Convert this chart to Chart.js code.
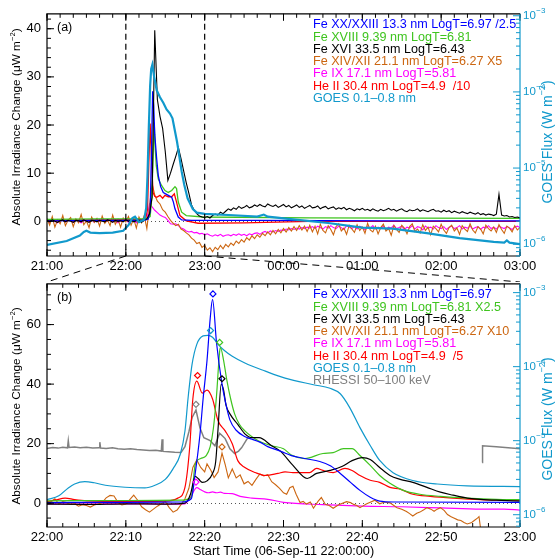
<!DOCTYPE html>
<html>
<head>
<meta charset="utf-8">
<script src="https://cdn.jsdelivr.net/npm/chart.js@4.4.1/dist/chart.umd.min.js"></script>
<style>
  html, body { margin: 0; padding: 0; background: #fff; }
  #wrap { position: relative; width: 558px; height: 560px; overflow: hidden; }
  #chartA { position: absolute; left: 0; top: 0; }
  #chartB { position: absolute; left: 0; top: 270px; }
</style>
</head>
<body>
<div id="wrap">
  <canvas id="chartA" width="558" height="282"></canvas>
  <canvas id="chartB" width="558" height="290"></canvas>
</div>
<script>
const FONT = "'Liberation Sans', Arial, Helvetica, sans-serif";
const INK = { blue: '#0000ff', green: '#3fc41f', black: '#000000', orange: '#cc6611',
              magenta: '#ff00ff', red: '#ff0000', goes: '#1199cc', gray: '#808080' };

// ---- panel (a): 21:00 - 03:00, minutes after 21:00 ----
const aHourTicks = [0, 60, 120, 180, 240, 300, 360];
const aLevelTicks = [0, 10, 20, 30, 40];
const aZoomWindow = [60, 120];
const aLabels = ['Fe XX/XXIII 13.3 nm LogT=6.97 /2.5', 'Fe XVIII 9.39 nm LogT=6.81', 'Fe XVI 33.5 nm LogT=6.43',
                 'Fe XIV/XII 21.1 nm LogT=6.27 X5', 'Fe IX 17.1 nm LogT=5.81', 'He II 30.4 nm LogT=4.9  /10', 'GOES 0.1\u20130.8 nm'];

// 2-minute samples starting at 21:00
const aGridStart = 0, aGridStep = 2;
const aFe16 = [
  0.2, -0.1, 0.3, 0.0, -0.2, 0.1, 0.3, -0.1, 0.2, 0.0,
  -0.2, 0.2, 0.1, -0.1, 0.3, 0.0, -0.2, 0.2, 0.1, -0.1,
  0.2, 0.0, -0.1, 0.3, 0.1, -0.2, 0.2, 0.0, 0.1, -0.1,
  0.3, 0.0, 0.2, -0.1, 0.1, 0.2, -0.2, 0.3, 0.5, 1.5,
  5.0, 39.7, 25.3, 21.8, 19.3, 14.5, 8.5, 10.0, 11.8, 13.5,
  15.3, 13.0, 10.5, 8.0, 5.8, 3.4, 2.3, 1.6, 1.1, 0.9,
  0.8, 1.0, 0.7, 1.2, 1.5, 1.3, 1.9, 1.6, 2.1, 2.6,
  2.3, 2.8, 2.5, 3.1, 2.7, 2.9, 3.3, 2.8, 3.0, 3.4,
  3.1, 3.5, 3.2, 3.0, 3.6, 3.3, 3.1, 3.4, 2.9, 3.2,
  3.5, 3.0, 3.3, 2.8, 3.1, 3.4, 2.9, 3.2, 2.7, 3.0,
  3.3, 2.8, 2.9, 3.2, 2.6, 2.9, 3.1, 2.6, 2.8, 3.0,
  2.5, 2.8, 2.6, 2.9, 2.4, 2.7, 2.5, 2.2, 2.6, 2.4,
  2.7, 2.3, 2.5, 2.2, 2.6, 2.3, 2.1, 2.5, 2.2, 2.4,
  2.7, 2.3, 2.5, 2.1, 2.4, 2.6, 2.2, 2.0, 2.4, 2.2,
  2.3, 2.6, 2.1, 2.4, 2.2, 2.0, 2.3, 2.5, 2.1, 2.2,
  1.9, 2.3, 2.0, 2.2, 1.8, 2.1, 1.9, 1.7, 2.0, 1.8,
  1.6, 1.9, 1.7, 1.5, 1.8, 1.4, 1.6, 1.3, 1.5, 1.4,
  1.2, 1.5, 5.6, 1.3, 1.1, 1.2, 0.9, 1.0, 0.8, 0.9,
  0.7
];
const aFe14 = [
  0.6, -0.8, 1.0, -1.2, 0.3, -0.5, 1.2, -0.9, 0.2, 0.8,
  -1.1, 0.5, -0.3, 1.4, -0.7, 0.1, -1.3, 0.9, -0.2, 0.6,
  -1.0, 1.1, -0.4, 0.3, -0.9, 1.3, -0.6, 0.4, -1.2, 0.7,
  -0.1, 1.0, -0.8, 0.5, -1.4, 0.9, -0.3, 1.2, -1.5, 3.0,
  7.8, 5.5, 4.2, 3.6, 2.4, 1.9, 1.0, 0.2, -0.4, -0.9,
  -0.6, -1.6, -1.9, -2.4, -2.8, -3.5, -3.9, -4.6, -4.4, -5.4,
  -5.0, -6.0, -5.5, -6.3, -5.4, -5.9, -5.0, -5.7, -4.8, -5.3,
  -4.5, -5.0, -4.1, -4.6, -3.8, -4.3, -3.4, -3.9, -3.0, -3.6,
  -2.8, -3.3, -2.5, -3.0, -2.2, -2.8, -1.9, -2.6, -1.7, -2.4,
  -1.5, -2.2, -1.3, -2.0, -1.1, -1.9, -0.9, -1.8, -1.0, -2.1,
  -0.8, -2.2, -1.0, -2.6, -0.6, -1.9, -2.4, -0.9, -1.7, -2.8,
  -1.1, -0.5, -2.0, -1.4, -2.7, -0.8, -1.6, -2.3, -0.7, -1.9,
  -1.2, -2.5, -0.4, -1.8, -2.2, -1.0, -2.6, -1.3, -0.6, -2.0,
  -1.5, -2.9, -0.9, -1.7, -2.3, -0.8, -1.4, -2.6, -1.1, -0.5,
  -2.1, -1.6, -2.4, -0.7, -1.9, -1.2, -2.8, -1.0, -1.5, -2.2,
  -0.6, -1.8, -2.5, -1.3, -0.8, -2.0, -1.4, -2.7, -0.9, -1.6,
  -2.1, -0.5, -1.8, -2.4, -1.1, -1.6, -2.6, -0.8, -1.5, -2.0,
  -1.2, -2.3, -0.7, -1.7, -2.5, -1.0, -1.4, -2.2, -0.9, -1.8,
  -1.3
];
const aFe9 = [
  0.3, -0.2, 0.4, 0.0, -0.3, 0.2, 0.5, -0.1, 0.1, 0.3,
  -0.2, 0.4, 0.0, -0.3, 0.2, 0.1, -0.1, 0.3, -0.2, 0.2,
  0.0, 0.4, -0.2, 0.1, 0.3, -0.1, 0.2, -0.3, 0.1, 0.0,
  0.3, -0.2, 0.1, 0.2, -0.3, 0.1, 0.0, 0.2, 0.4, 3.6,
  3.0, 2.3, 1.8, 1.3, 1.0, 0.8, 0.2, -0.5, -0.6, -0.5,
  -0.9, -1.4, -1.6, -2.0, -2.2, -2.1, -2.4, -2.3, -2.6, -2.5,
  -2.8, -2.6, -2.9, -3.1, -2.8, -3.0, -2.7, -3.1, -2.9, -2.8,
  -3.0, -2.7, -2.9, -2.6, -2.9, -2.7, -3.0, -2.6, -2.8, -2.5,
  -2.4, -2.7, -2.3, -2.1, -2.4, -2.0, -2.2, -1.9, -2.1, -1.8,
  -1.9, -1.6, -1.8, -1.5, -1.7, -1.4, -1.6, -1.3, -1.5, -1.2,
  -1.4, -1.1, -1.5, -1.0, -1.3, -1.6, -1.1, -1.4, -0.9, -1.3,
  -1.5, -1.0, -1.3, -1.7, -0.9, -1.2, -1.5, -1.1, -1.6, -1.0,
  -1.3, -1.8, -1.1, -1.4, -0.9, -1.6, -1.2, -1.5, -1.0, -1.7,
  -1.2, -1.4, -0.8, -1.5, -1.3, -1.0, -1.7, -1.2, -1.4, -0.9,
  -1.6, -1.1, -1.3, -1.8, -1.0, -1.4, -1.2, -1.6, -0.9, -1.3,
  -1.5, -1.1, -1.7, -1.2, -1.0, -1.5, -1.3, -0.9, -1.6, -1.2,
  -1.4, -1.0, -1.6, -1.3, -1.1, -1.7, -1.2, -1.4, -0.9, -1.5,
  -1.2, -1.6, -1.0, -1.3, -1.5, -1.1, -1.4, -1.7, -1.2, -1.0,
  -1.3
];
const aFe20T = [0, 40, 74, 77, 78.5, 79.5, 80.4, 81.2, 82, 83.5, 84.7, 86.5, 88.5, 92.3, 94.9, 96.2, 97.4, 99.9, 102.5, 110, 160, 260, 360];
const aFe20V = [0.1, 0.2, 0.2, 0.5, 2.0, 14, 27, 24, 18, 12.9, 9.5, 7.2, 6.0, 5.4, 5.0, 4.0, 2.6, 0.9, 0.3, 0.2, 0.2, 0.1, 0.1];
const aFe18T = [0, 40, 75, 78.5, 79.8, 80.7, 81.6, 82.4, 83.2, 84.7, 87.3, 89.8, 92.3, 94.9, 97.4, 98.6, 99.9, 102.5, 106, 119, 200, 360];
const aFe18V = [0.4, 0.5, 0.5, 1.0, 5.0, 13, 20.5, 15, 11.5, 8.8, 7.4, 6.4, 6.0, 6.4, 7.2, 6.8, 4.0, 1.9, 1.2, 0.9, 0.7, 0.6];
const aHe2T = [0, 40, 75, 76.5, 77.5, 78.5, 79.5, 80.7, 82, 83.5, 86, 88, 89.8, 92.3, 94.9, 96.9, 98.6, 101.2, 106, 115, 150, 200, 360];
const aHe2V = [0.2, 0.3, 0.4, 2.5, 12, 20.3, 13, 6.0, 5.2, 5.0, 5.4, 4.8, 5.4, 5.1, 5.1, 5.7, 4.0, 1.2, 0.1, -0.4, -0.3, 0.0, 0.0];
const aGoesT = [0, 15, 25, 28, 30, 33, 40, 50, 58, 62,
                65, 67, 70, 74, 75.5, 76.5, 77.5, 78.5, 79.3, 80.2,
                81.5, 83.5, 86, 88.5, 91, 93.6, 95.5, 97, 99, 100.5,
                102.5, 104.5, 107, 111, 114, 120, 142, 160, 165, 168,
                189, 214, 240, 263, 289, 314, 340, 348, 350, 352, 360];
const aGoesV = [9.8e-7, 1.1e-6, 1.3e-6, 1.45e-6, 1.5e-6, 1.42e-6, 1.4e-6, 1.42e-6, 1.5e-6, 1.78e-6,
                2.2e-6, 2.3e-6, 1.95e-6, 2.1e-6, 3.0e-6, 8.0e-6, 3.5e-5, 1.2e-4, 2.0e-4, 2.28e-4,
                1.6e-4, 1.05e-4, 8.5e-5, 7.2e-5, 5.9e-5, 5.2e-5, 4.5e-5, 3.3e-5, 2.2e-5, 1.5e-5,
                9.0e-6, 6.0e-6, 4.0e-6, 2.9e-6, 2.6e-6, 2.5e-6, 2.4e-6, 2.3e-6, 2.45e-6, 2.3e-6,
                2.1e-6, 1.9e-6, 1.65e-6, 1.6e-6, 1.4e-6, 1.2e-6, 1.07e-6, 1.05e-6, 1.12e-6, 1.05e-6, 1.0e-6];

// ---- panel (b): 22:00 - 23:00, minutes after 22:00 ----
const bMinuteTicks = [0, 10, 20, 30, 40, 50, 60];
const bLevelTicks = [0, 20, 40, 60];
const bLabels = ['Fe XX/XXIII 13.3 nm LogT=6.97', 'Fe XVIII 9.39 nm LogT=6.81 X2.5', 'Fe XVI 33.5 nm LogT=6.43',
                 'Fe XIV/XII 21.1 nm LogT=6.27 X10', 'Fe IX 17.1 nm LogT=5.81', 'He II 30.4 nm LogT=4.9  /5',
                 'GOES 0.1\u20130.8 nm', 'RHESSI 50\u2013100 keV'];

const bFe20T = [0, 10, 17, 18.3, 18.8, 19.4, 19.8, 20.3, 20.7, 21.0, 21.5, 22.2, 22.8, 23.2, 24, 25, 26, 27, 28, 29.6,
                31, 32.7, 34.6, 36, 37.2, 38.5, 39.7, 41, 42.2, 44, 60];
const bFe20V = [0.2, 0.3, 0.4, 1.5, 10, 23, 35, 48, 62, 68.5, 54, 40, 32, 28, 24.5, 22.5, 21.5, 20.5, 19, 17.5,
                16, 15, 14, 12.5, 10, 7, 4.3, 2, 0.7, 0.4, 0.3];
const bFe18T = [0, 10, 17, 18.3, 18.8, 19.5, 20.2, 20.7, 21.1, 21.5, 21.9, 22.0, 22.4, 22.8, 23.3, 23.8, 24.4, 25.1, 26, 26.8,
                28.5, 30, 31, 32.7, 35, 36.3, 37.6, 38.7, 39.7, 41, 42.2, 43.5, 45.2, 47.3, 49.9, 53.3, 57, 60];
const bFe18V = [0.8, 0.9, 1.0, 2.0, 13, 15, 16, 19, 25, 36, 51, 52.3, 48, 41.5, 35, 30, 26.5, 24.3, 22.3, 21,
                19.3, 18.3, 16.2, 15, 16.7, 17, 18.3, 18.3, 16, 12.7, 9.3, 6.7, 4.3, 3, 2.3, 1.7, 1.3, 1.2];
const bFe16T = [0, 5, 10, 15, 17.5, 18.2, 18.8, 19.2, 19.7, 20.3, 21, 21.4, 21.7, 22.1, 22.4, 22.7, 23.2, 24.2, 25.1, 26,
                26.9, 28.5, 29.6, 31.2, 33, 34.2, 35.9, 37.4, 38.7, 40, 41, 42.2, 43.5, 44.8, 46.4, 48.2, 49.9, 51.5, 53.3, 55,
                57, 60];
const bFe16V = [-0.3, -0.4, -0.2, -0.3, 0, 3, 9.0, 8.2, 7.0, 7.5, 10, 14, 25, 40, 38, 33, 30, 26.5, 23.3, 22,
                22, 19.3, 17.5, 12.7, 8.3, 10, 11, 12.3, 14.3, 15.3, 14.7, 12, 9.3, 8, 7, 5.3, 3.7, 2.7, 1.7, 1.3,
                1.0, 0.7];
const bFe14T = [0, 0.5, 1, 1.5, 2, 2.5, 3, 3.5, 4, 4.5,
                5, 5.5, 6, 6.5, 7, 7.5, 8, 8.5, 9, 9.5,
                10, 10.5, 11, 11.5, 12, 12.5, 13, 13.5, 14, 14.5,
                15, 15.5, 16, 16.5, 17, 17.5, 18, 18.5, 19, 19.5,
                20, 20.3, 20.8, 21.2, 21.7, 22.2, 22.6, 23, 23.5, 24,
                24.5, 25, 25.5, 26, 26.5, 27, 27.5, 28, 28.5, 29,
                29.5, 30, 30.4, 30.8, 31.2, 31.6, 32.1, 32.5, 32.9, 33.4,
                33.8, 34.4, 34.8, 35.3, 35.8, 36.3, 37, 38, 38.5, 38.9,
                39.3, 39.7, 40.1, 40.5, 41, 41.6, 42.2, 42.8, 43.5, 44,
                44.4, 45, 45.6, 46, 46.4, 46.9, 47.3, 47.8, 48.2, 48.7,
                49.1, 49.5, 49.9, 50.4, 50.8, 51.2, 51.6, 52.1, 52.5, 52.9,
                53.3, 53.8, 54.2, 54.6, 54.8, 55, 55.2];
const bFe14V = [0, 0.5, 1.5, -0.3, 0.5, 0.2, -0.4, -0.2, -1.0, -0.5,
                -0.8, -1.3, -0.6, -0.3, 0.2, 1.8, 2.6, 2.4, 0.3, -0.6,
                -0.3, 1.2, 2.7, 1.0, -1.2, -2.2, -3.0, -2.0, -1.0, -0.2,
                0.6, -1.5, -3.0, -2.3, -0.5, 1.5, 5, 12, 14.5, 12,
                10.5, 13.2, 11, 8.6, 10.5, 16.8, 13, 8.5, 11.5, 8.5,
                9.5, 6.5, 7.3, 6, 8, 9.8, 9.2, 9.6, 7.2, 6.2,
                5, 3.5, 3, 5.2, 5.7, 3, 0.2, 0.6, -0.3, 0.4,
                -1.7, 0.7, 1.9, -0.4, -0.8, -1.7, -0.5, 0.5, 0.2, -0.4,
                -0.8, -1.5, -0.9, -0.3, 0.3, 1.0, -0.2, 0.4, 0.1, -0.8,
                -1.5, -2.0, -2.8, -3.5, -4.3, -3.4, -3.0, -2.2, -1.5, -2.0,
                -2.7, -2.0, -1.5, -2.5, -3.8, -4.5, -5.0, -5.6, -5.8, -6.5,
                -7.0, -6.6, -5.8, -5.0, -4.5, -8.5, -10];
const bFe9T = [0, 5, 10, 15, 17.5, 18.2, 19, 19.5, 20, 20.5, 21, 21.5, 22, 22.5, 23.5, 24.5, 26, 28, 30, 35, 40, 45, 50, 55, 58, 60];
const bFe9V = [-0.2, -0.3, -0.2, -0.3, -0.2, 2, 5.2, 4.5, 3.8, 3.5, 3.8, 3.5, 3.7, 3.3, 3.2, 2.3, 1.7, 1.3, 0.3, -0.5, -1.0, -1.2, -1.6, -2.0, -2.0, -2.3];
const bHe2T = [0, 1, 2.3, 3.5, 5, 10, 15, 16.6, 17.5, 18.1, 18.5, 19, 19.7, 20.3, 21, 21.7, 22.6, 23.5, 24.2, 25.1,
               26.4, 27.7, 29.3, 30.2, 31.2, 33.3, 34.2, 35, 36.3, 37.8, 38.7, 39.7, 41, 42.2, 43.5, 44.8, 46.4, 48.6, 51.5, 55, 60];
const bHe2V = [0.5, 1.0, 1.7, 1.2, 0.8, 0.6, 0.7, 1.7, 5.3, 18.7, 35, 41, 37, 38, 35, 27.7, 24.3, 20, 14.3, 12,
               10.3, 9.3, 10, 10.5, 10.3, 10.3, 11.7, 11, 10.3, 11.7, 11, 9.3, 7.7, 7, 5.3, 4.7, 3, 2.3, 1.7, 1.2, 1.0];
const bGoesT = [0, 1.5, 2.7, 3.5, 4.8, 6, 7.4, 9.9, 12.4, 13.7,
                15, 16, 16.9, 17.5, 17.9, 18.4, 19, 19.8, 20.4, 21.0,
                21.7, 22.5, 23.5, 25.1, 27.7, 30.2, 33.8, 35.9, 37.2, 38.4,
                39.7, 41, 42.2, 43.9, 46.4, 49.5, 53.3, 60];
const bGoesV = [1.6e-6, 1.8e-6, 2.3e-6, 2.6e-6, 2.8e-6, 2.7e-6, 2.5e-6, 2.35e-6, 2.3e-6, 2.5e-6,
                3.0e-6, 4.2e-6, 6.5e-6, 1.35e-5, 3.8e-5, 1.07e-4, 2.0e-4, 2.6e-4, 2.65e-4, 2.5e-4,
                2.0e-4, 1.65e-4, 1.38e-4, 1.12e-4, 8.7e-5, 7.0e-5, 5.7e-5, 5.1e-5, 4.3e-5, 2.8e-5,
                1.5e-5, 8.6e-6, 5.4e-6, 3.7e-6, 2.9e-6, 2.6e-6, 2.45e-6, 2.4e-6];
// RHESSI count rate, scaled to the left axis; gap while the spacecraft was in eclipse
const bRhessiT = [0, 0.7, 1.4, 2.0, 2.6, 2.7, 2.8, 3.5, 4.2, 5,
                  5.8, 6.6, 6.7, 6.8, 7.5, 8.3, 9, 9.8, 10.6, 11.4,
                  12.2, 13, 13.8, 14.5, 14.6, 14.7, 15.4, 16.2, 17, 17.5,
                  18, 18.4, 18.9, 19.4, 19.9, 20.7, 21.3, 21.9, 22.3, 22.6,
                  23.2, 23.8, 24.3, 24.7, 25.4, 25.7, 40, 55.2, 55.25, 57, 60];
const bRhessiV = [18.4, 18.7, 18.5, 18.8, 18.6, 21, 18.7, 18.9, 18.6, 18.8,
                  18.5, 18.6, 20.5, 18.5, 18.4, 18.6, 18.3, 18.1, 18.3, 18.0,
                  17.9, 17.7, 17.8, 17.5, 21.5, 17.4, 17.3, 17.1, 17.0, 19,
                  24, 28.7, 31.3, 25.3, 22, 21, 19.3, 23.5, 22.5, 21.7,
                  18.3, 16.7, 17.5, 18.7, 21.7, 22, null, 13.7, 19.3, 19, 18.3];
// peak markers: Fe XX, Fe XVIII, Fe XVI, Fe XIV, Fe IX, He II, GOES, RHESSI
const bPeakT = [21.05, 21.9, 22.2, 22.2, 18.9, 19.1, 20.75, 18.9];
const bPeakV = [70.3, 54, 41.8, 18.9, 7.1, 42.9, 58, 33.2];

const aColors = [INK.blue, INK.green, INK.black, INK.orange, INK.magenta, INK.red, INK.goes];
const bColors = [INK.blue, INK.green, INK.black, INK.orange, INK.magenta, INK.red, INK.goes, INK.gray];

const xy = (ts, vs) => ts.map((t, i) => ({ x: t, y: vs[i] }));
const sampled = vs => vs.map((v, i) => ({ x: aGridStart + i * aGridStep, y: v }));

function clock(m) {
  const h = Math.floor(m / 60) % 24, mm = Math.round(m % 60);
  return String(h).padStart(2, '0') + ':' + String(mm).padStart(2, '0');
}

function series(label, data, color, width, axis, smooth) {
  return {
    label, data, borderColor: color, backgroundColor: color, borderWidth: width,
    yAxisID: axis || 'y', pointRadius: 0, fill: false, clip: 0, spanGaps: false,
    tension: 0, cubicInterpolationMode: smooth ? 'monotone' : 'default'
  };
}

function seg(ctx, x1, y1, x2, y2) {
  ctx.beginPath();
  ctx.moveTo(x1, y1);
  ctx.lineTo(x2, y2);
  ctx.stroke();
}

// text with superscript pieces, centred on (x, y)
function drawRich(ctx, x, y, parts, size, color, angle) {
  ctx.save();
  ctx.translate(x, y);
  if (angle) ctx.rotate(angle);
  ctx.fillStyle = color;
  ctx.textBaseline = 'middle';
  ctx.textAlign = 'left';
  let w = 0;
  parts.forEach(([t, sup]) => { ctx.font = (sup ? size * 0.65 : size) + 'px ' + FONT; w += ctx.measureText(t).width; });
  let cx = -w / 2;
  parts.forEach(([t, sup]) => {
    ctx.font = (sup ? size * 0.65 : size) + 'px ' + FONT;
    ctx.fillText(t, cx, sup ? -size * 0.38 : 0);
    cx += ctx.measureText(t).width;
  });
  ctx.restore();
}

const panelDecor = {
  id: 'panelDecor',
  beforeDatasetsDraw(chart, args, o) {
    const { ctx, chartArea: a } = chart;
    const y0 = Math.round(chart.scales.y.getPixelForValue(0)) + 0.5;
    ctx.save();
    ctx.strokeStyle = '#555';
    ctx.lineWidth = 1;
    ctx.setLineDash([1, 3]);
    seg(ctx, a.left, y0, a.right, y0);
    ctx.restore();
  },
  afterDraw(chart, args, o) {
    const { ctx, chartArea: a } = chart;
    const { x, y, y2 } = chart.scales;
    ctx.save();

    // dashed window of the lower panel, with the connectors
    if (o.window) {
      const x1 = x.getPixelForValue(o.window[0]);
      const x2 = x.getPixelForValue(o.window[1]);
      ctx.strokeStyle = '#000';
      ctx.lineWidth = 1.2;
      ctx.setLineDash([6, 4]);
      seg(ctx, x1, a.top, x1, a.bottom);
      seg(ctx, x2, a.top, x2, a.bottom);
      ctx.lineWidth = 1;
      ctx.setLineDash([7, 5]);
      seg(ctx, x1, a.bottom, a.left, chart.height);
      seg(ctx, x2, a.bottom, a.right, chart.height);
      ctx.setLineDash([]);
    }

    // box and ticks
    ctx.strokeStyle = '#000';
    ctx.lineWidth = 1.2;
    ctx.beginPath();
    ctx.moveTo(a.right, a.top);
    ctx.lineTo(a.left, a.top);
    ctx.lineTo(a.left, a.bottom);
    ctx.lineTo(a.right, a.bottom);
    ctx.stroke();
    ctx.lineWidth = 1;
    const tickX = (v, len) => {
      const px = x.getPixelForValue(v);
      seg(ctx, px, a.bottom, px, a.bottom - len);
      seg(ctx, px, a.top, px, a.top + len);
    };
    for (let v = x.min; v <= x.max + 1e-9; v += o.xMinor) tickX(v, 4);
    x.ticks.forEach(t => tickX(t.value, 7));
    const tickY = (v, len) => {
      const py = y.getPixelForValue(v);
      seg(ctx, a.left, py, a.left + len, py);
    };
    for (let v = Math.ceil(y.min / o.yMinor) * o.yMinor; v <= y.max; v += o.yMinor) tickY(v, 4);
    y.ticks.forEach(t => tickY(t.value, 7));

    // GOES flux axis on the right
    ctx.strokeStyle = INK.goes;
    ctx.fillStyle = INK.goes;
    ctx.lineWidth = 1.2;
    seg(ctx, a.right, a.top, a.right, a.bottom);
    ctx.lineWidth = 1;
    const lo = Math.floor(Math.log10(y2.min)), hi = Math.ceil(Math.log10(y2.max));
    for (let d = lo; d <= hi; d++) {
      for (let m = 1; m < 10; m++) {
        const v = m * Math.pow(10, d);
        if (v < y2.min || v > y2.max) continue;
        const py = y2.getPixelForValue(v);
        seg(ctx, a.right, py, a.right - (m === 1 ? 7 : 4), py);
        if (m === 1) {
          ctx.textAlign = 'left';
          ctx.textBaseline = 'middle';
          ctx.font = '11.5px ' + FONT;
          ctx.fillText('10', a.right + 3, py);
          const w = ctx.measureText('10').width;
          ctx.font = '8px ' + FONT;
          ctx.fillText('\u2212' + (-d), a.right + 3.5 + w, py - 5);
        }
      }
    }

    // legend
    ctx.textAlign = 'left';
    ctx.textBaseline = 'middle';
    ctx.font = '12.6px ' + FONT;
    o.legend.forEach((t, i) => {
      ctx.fillStyle = o.legendColors[i];
      ctx.fillText(t, a.left + 266, a.top + 11 + i * 12.3);
    });
    ctx.fillStyle = '#000';
    ctx.font = '12.5px ' + FONT;
    ctx.fillText(o.tag, a.left + 10, a.top + 14);

    // axis titles
    drawRich(ctx, 17, o.leftTitleY, [['Absolute Irradiance Change (\u03bcW m', false], ['\u22122', true], [')', false]],
             11.8, '#000', -Math.PI / 2);
    drawRich(ctx, 548, o.rightTitleY, [['GOES Flux (W m', false], ['\u22122', true], [')', false]],
             14, INK.goes, -Math.PI / 2);
    if (o.xTitle) {
      ctx.fillStyle = '#000';
      ctx.textAlign = 'center';
      ctx.font = '12.7px ' + FONT;
      ctx.fillText(o.xTitle, (a.left + a.right) / 2, o.xTitleY);
    }
    ctx.restore();
  }
};

function panelOptions(p) {
  const tickFont = { family: FONT, size: 13 };
  return {
    responsive: false,
    animation: false,
    devicePixelRatio: 1,
    layout: { padding: { top: 12, left: 0, right: 0, bottom: 0 } },
    elements: { point: { radius: 0 } },
    plugins: { legend: { display: false }, tooltip: { enabled: false }, panelDecor: p.decor },
    scales: {
      x: {
        type: 'linear', min: p.xMin, max: p.xMax,
        grid: { display: false, drawTicks: false }, border: { display: false },
        afterBuildTicks: s => { s.ticks = p.xTicks.map(v => ({ value: v })); },
        afterFit: s => { s.height = p.xHeight; },
        ticks: { autoSkip: false, maxRotation: 0, padding: 3, color: '#000', font: tickFont,
                 callback: v => clock(p.clockStart + v) }
      },
      y: {
        position: 'left', min: p.yMin, max: p.yMax,
        grid: { display: false, drawTicks: false }, border: { display: false },
        afterBuildTicks: s => { s.ticks = p.yTicks.map(v => ({ value: v })); },
        afterFit: s => { s.width = 47; },
        ticks: { padding: 6, color: '#000', font: tickFont }
      },
      y2: {
        type: 'logarithmic', position: 'right', min: p.fluxMin, max: p.fluxMax,
        grid: { display: false, drawTicks: false }, border: { display: false },
        ticks: { display: false },
        afterFit: s => { s.width = 38; }
      }
    }
  };
}

// upper panel: six hours around the flare
new Chart(document.getElementById('chartA'), {
  type: 'line',
  data: {
    datasets: [
      series(aLabels[6], xy(aGoesT, aGoesV), INK.goes, 2.2, 'y2'),
      series(aLabels[2], sampled(aFe16), INK.black, 1.1),
      series(aLabels[0], xy(aFe20T, aFe20V), INK.blue, 1.3),
      series(aLabels[1], xy(aFe18T, aFe18V), INK.green, 1.3),
      series(aLabels[5], xy(aHe2T, aHe2V), INK.red, 1.3),
      series(aLabels[3], sampled(aFe14), INK.orange, 1.1),
      series(aLabels[4], sampled(aFe9), INK.magenta, 1.1)
    ]
  },
  options: panelOptions({
    xMin: 0, xMax: 360, xTicks: aHourTicks, clockStart: 21 * 60, xHeight: 26,
    yMin: -7.2, yMax: 43.1, yTicks: aLevelTicks,
    fluxMin: Math.pow(10, -6.155), fluxMax: Math.pow(10, -2.974),
    decor: { tag: '(a)', legend: aLabels, legendColors: aColors, xMinor: 10, yMinor: 2,
             window: aZoomWindow, leftTitleY: 127, rightTitleY: 142 }
  }),
  plugins: [panelDecor]
});

// lower panel: the flare hour
new Chart(document.getElementById('chartB'), {
  type: 'line',
  data: {
    datasets: [
      { label: 'peaks', data: xy(bPeakT, bPeakV), showLine: false, yAxisID: 'y', clip: 0,
        pointStyle: 'rectRot', pointRadius: 3, pointBorderWidth: 1.2,
        pointBorderColor: bColors, pointBackgroundColor: 'rgba(0,0,0,0)' },
      series(bLabels[0], xy(bFe20T, bFe20V), INK.blue, 1.2, 'y', true),
      series(bLabels[2], xy(bFe16T, bFe16V), INK.black, 1.2, 'y', true),
      series(bLabels[1], xy(bFe18T, bFe18V), INK.green, 1.2, 'y', true),
      series(bLabels[5], xy(bHe2T, bHe2V), INK.red, 1.2, 'y', true),
      series(bLabels[3], xy(bFe14T, bFe14V), INK.orange, 1.1),
      series(bLabels[4], xy(bFe9T, bFe9V), INK.magenta, 1.2, 'y', true),
      series(bLabels[6], xy(bGoesT, bGoesV), INK.goes, 1.2, 'y2', true),
      series(bLabels[7], xy(bRhessiT, bRhessiV), INK.gray, 1.5)
    ]
  },
  options: panelOptions({
    xMin: 0, xMax: 60, xTicks: bMinuteTicks, clockStart: 22 * 60, xHeight: 33,
    yMin: -8, yMax: 73.7, yTicks: bLevelTicks,
    fluxMin: Math.pow(10, -6.166), fluxMax: Math.pow(10, -2.881),
    decor: { tag: '(b)', legend: bLabels, legendColors: bColors, xMinor: 2, yMinor: 5,
             leftTitleY: 136, rightTitleY: 149,
             xTitle: 'Start Time (06-Sep-11 22:00:00)', xTitleY: 281 }
  }),
  plugins: [panelDecor]
});
</script>
</body>
</html>
